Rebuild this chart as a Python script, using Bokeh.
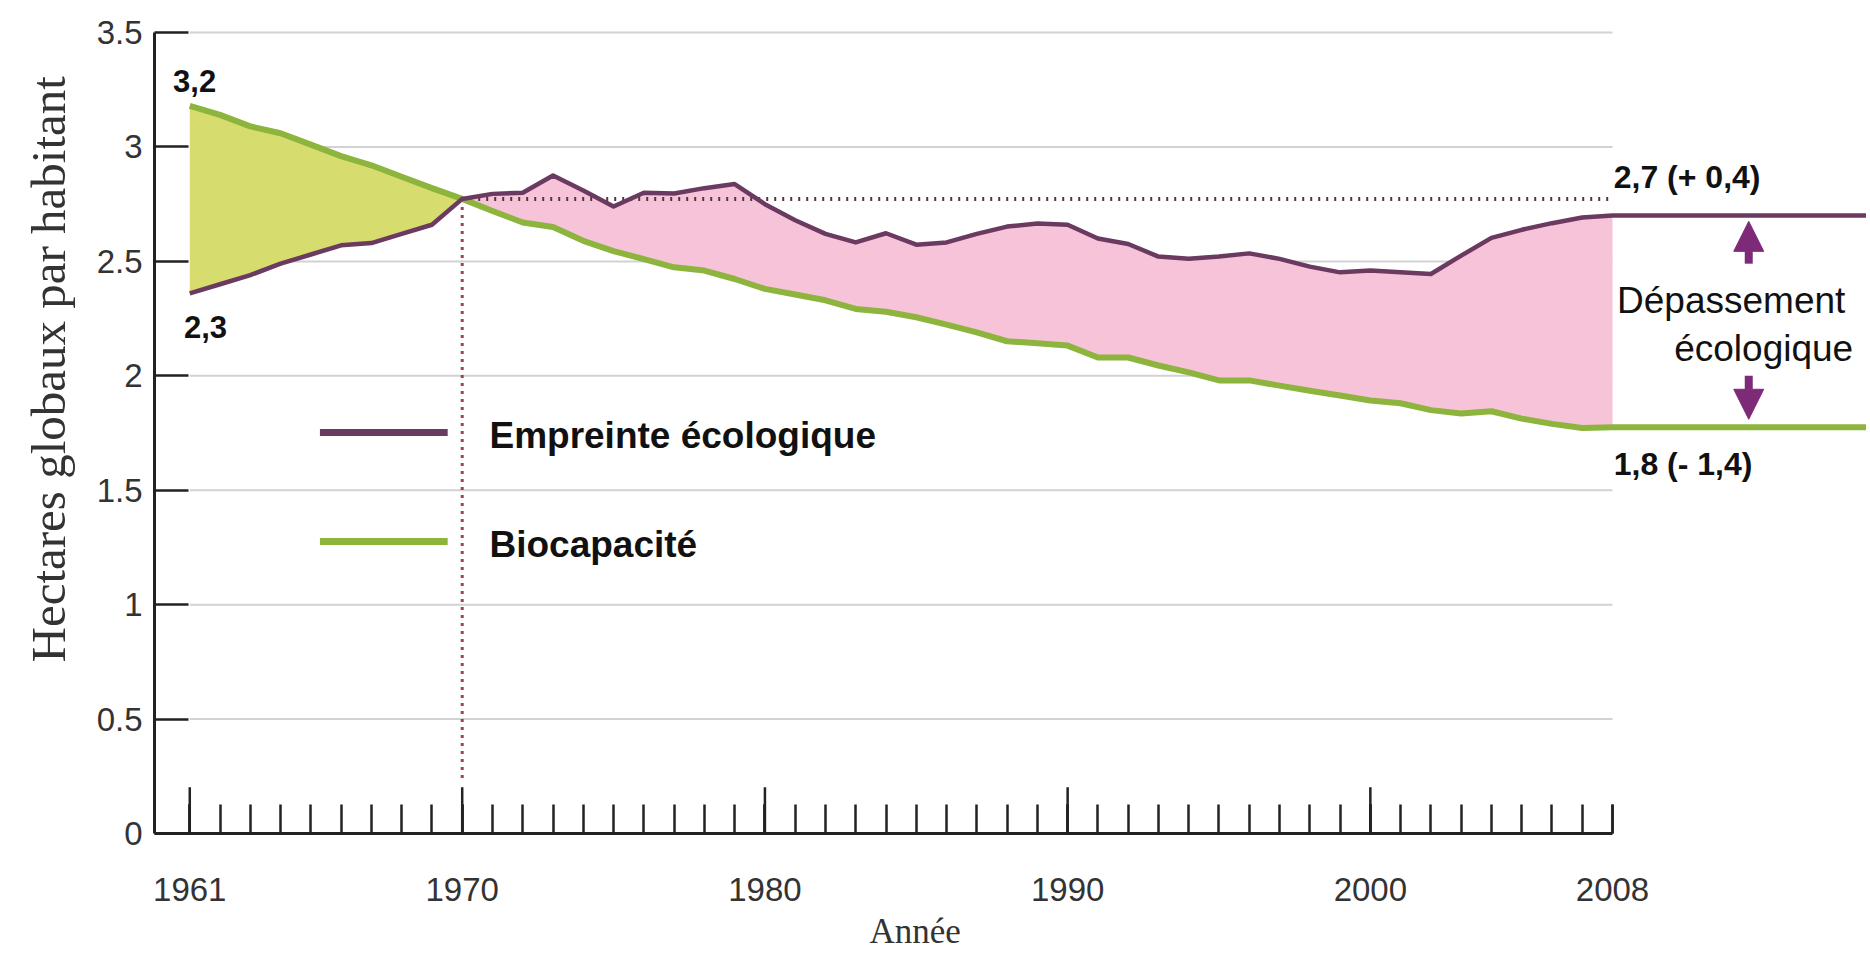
from bokeh.plotting import figure
from bokeh.models import FixedTicker, Range1d, Title, Arrow, NormalHead
from bokeh.core.properties import value
from bokeh.embed import file_html
from bokeh.resources import INLINE

# ---------------- data ----------------
years = list(range(1961, 2009))
footprint = [2.36, 2.40, 2.44, 2.49, 2.53, 2.57, 2.58, 2.62, 2.66, 2.773,
             2.795, 2.80, 2.875, 2.81, 2.74, 2.80, 2.797, 2.82, 2.838, 2.75,
             2.68, 2.62, 2.583, 2.623, 2.573, 2.583, 2.62, 2.652, 2.666, 2.66,
             2.60, 2.576, 2.521, 2.511, 2.521, 2.535, 2.511, 2.477, 2.452, 2.46,
             2.452, 2.445, 2.525, 2.603, 2.638, 2.667, 2.692, 2.70]
biocap = [3.18, 3.14, 3.09, 3.06, 3.01, 2.96, 2.92, 2.87, 2.82, 2.773,
          2.72, 2.67, 2.65, 2.59, 2.545, 2.51, 2.474, 2.46, 2.423, 2.38,
          2.355, 2.33, 2.292, 2.28, 2.256, 2.224, 2.19, 2.151, 2.142, 2.132,
          2.08, 2.08, 2.045, 2.015, 1.98, 1.98, 1.957, 1.935, 1.914, 1.892,
          1.88, 1.85, 1.835, 1.845, 1.813, 1.79, 1.772, 1.775]
cross_year = 1970

y_ticks = [0, 0.5, 1, 1.5, 2, 2.5, 3, 3.5]
y_tick_labels = ["0", "0.5", "1", "1.5", "2", "2.5", "3", "3.5"]
x_major_ticks = [1961, 1970, 1980, 1990, 2000]
x_label_ticks = [1961, 1970, 1980, 1990, 2000, 2008]
x_tick_labels = ["1961", "1970", "1980", "1990", "2000", "2008"]

series_names = ["Empreinte écologique", "Biocapacité"]
start_labels = ["3,2", "2,3"]
end_labels = ["2,7 (+ 0,4)", "1,8 (- 1,4)"]
overshoot_lines = ["Dépassement", "écologique"]
y_title = "Hectares globaux par habitant"
x_title = "Année"

# ---------------- style ----------------
PURPLE = "#6A3A60"
GREEN = "#8DB43C"
OLIVE = "#D6DC6E"
PINK = "#F6C3D9"
ARROW = "#7D2B78"
GRID = "#D2D2D2"
AXIS = "#222222"
TICKTXT = "#333333"
SANS = "Liberation Sans"
SERIF = "Liberation Serif"

W, H = 1866, 961
LEFT, BOTTOM = 153, 128
x_start, x_end = 1959.835, 2016.39
y_end = 3.64
LONG_TICK = 0.202   # data height of the long (decade) ticks

p = figure(width=W, height=H, x_range=Range1d(x_start, x_end), y_range=Range1d(0, y_end),
           output_backend="svg", toolbar_location=None, title=None,
           min_border_left=LEFT, min_border_right=0, min_border_top=0,
           min_border_bottom=BOTTOM)
p.outline_line_color = None
p.background_fill_color = "white"
p.border_fill_color = "white"
p.grid.visible = False

# y axis
ya = p.yaxis[0]
ya.ticker = FixedTicker(ticks=y_ticks, minor_ticks=[])
ya.major_label_overrides = {t: l for t, l in zip(y_ticks, y_tick_labels)}
ya.bounds = (y_ticks[0], y_ticks[-1])
ya.axis_line_color = AXIS
ya.axis_line_width = 3
ya.major_tick_line_color = AXIS
ya.major_tick_line_width = 2.5
ya.major_tick_in = 34
ya.major_tick_out = 0
ya.minor_tick_line_color = None
ya.major_label_text_font = SANS
ya.major_label_text_font_size = "33px"
ya.major_label_text_color = TICKTXT
ya.major_label_standoff = 12

# x axis
xa = p.xaxis[0]
xa.ticker = FixedTicker(ticks=x_label_ticks, minor_ticks=years)
xa.major_label_overrides = {t: l for t, l in zip(x_label_ticks, x_tick_labels)}
xa.bounds = (x_start, years[-1])
xa.axis_line_color = AXIS
xa.axis_line_width = 3
xa.major_tick_line_color = AXIS
xa.major_tick_line_width = 2.5
xa.minor_tick_line_color = AXIS
xa.minor_tick_line_width = 2.5
xa.major_tick_in = 29
xa.major_tick_out = 0
xa.minor_tick_in = 29
xa.minor_tick_out = 0
xa.major_label_text_font = SANS
xa.major_label_text_font_size = "33px"
xa.major_label_text_color = TICKTXT
xa.major_label_standoff = 44

p.add_layout(Title(text=x_title, align="left", offset=715, text_font=SERIF,
                   text_font_size="35px", text_font_style="normal",
                   text_color=TICKTXT, standoff=12), "below")
p.add_layout(Title(text=y_title, align="left", offset=171, text_font=SERIF,
                   text_font_size="49px", text_font_style="normal",
                   text_color=TICKTXT, standoff=36), "left")

# long decade ticks
p.segment(x0=x_major_ticks, x1=x_major_ticks, y0=[0] * len(x_major_ticks),
          y1=[LONG_TICK] * len(x_major_ticks), line_color=AXIS, line_width=2.5)

# grid lines
grid_levels = y_ticks[1:]
p.segment(x0=[years[0]] * len(grid_levels), x1=[years[-1]] * len(grid_levels),
          y0=grid_levels, y1=grid_levels, line_color=GRID, line_width=2)

# fills
i0 = years.index(cross_year)
p.varea(x=years[:i0 + 1], y1=footprint[:i0 + 1], y2=biocap[:i0 + 1], fill_color=OLIVE)
p.varea(x=years[i0:], y1=biocap[i0:], y2=footprint[i0:], fill_color=PINK)

# dotted reference lines at the crossing
cross_val = footprint[i0]
p.line([cross_year, years[-1]], [cross_val, cross_val], line_color="#54363C",
       line_width=4, line_dash="2 6")
p.line([cross_year, cross_year], [cross_val, 0.23], line_color="#A8404E",
       line_width=3, line_dash="3 5")

# series lines (extended flat after 2008)
p.line(years + [x_end], biocap + [biocap[-1]], line_color=GREEN, line_width=6,
       line_join="round")
p.line(years + [x_end], footprint + [footprint[-1]], line_color=PURPLE, line_width=4.5,
       line_join="round")

# legend (drawn)
leg_y = [1.752, 1.276]
leg_cols = [PURPLE, GREEN]
p.segment(x0=[1965.3, 1965.3], x1=[1969.52, 1969.52], y0=leg_y, y1=leg_y,
          line_color=leg_cols, line_width=7)
p.text(x=[1970.9, 1970.9], y=[v - 0.013 for v in leg_y], text=series_names,
       text_font=value(SANS), text_font_style="bold", text_font_size="37px",
       text_color="#111111", text_baseline="alphabetic", text_align="left")

# value annotations
p.text(x=[1961.16, 1961.52], y=[3.29, 2.215], text=start_labels,
       text_font=value(SANS), text_font_style="bold", text_font_size="31px",
       text_color="#111111", text_baseline="middle", text_align="center")
p.text(x=[2008.04, 2008.04], y=[2.870, 1.616], text=end_labels,
       text_font=value(SANS), text_font_style="bold", text_font_size="32px",
       text_color="#111111", text_baseline="middle", text_align="left")
p.text(x=[2015.69, 2015.95], y=[2.329, 2.119], text=overshoot_lines,
       text_font=value(SANS), text_font_size="37px",
       text_color="#111111", text_baseline="alphabetic", text_align="right")

# arrows
p.add_layout(Arrow(end=NormalHead(size=30, fill_color=ARROW, line_color=ARROW),
                   x_start=2012.5, y_start=2.49, x_end=2012.5, y_end=2.675,
                   line_color=ARROW, line_width=8))
p.add_layout(Arrow(end=NormalHead(size=30, fill_color=ARROW, line_color=ARROW),
                   x_start=2012.5, y_start=2.0, x_end=2012.5, y_end=1.81,
                   line_color=ARROW, line_width=8))

open("out.html", "w").write(file_html(p, INLINE))
